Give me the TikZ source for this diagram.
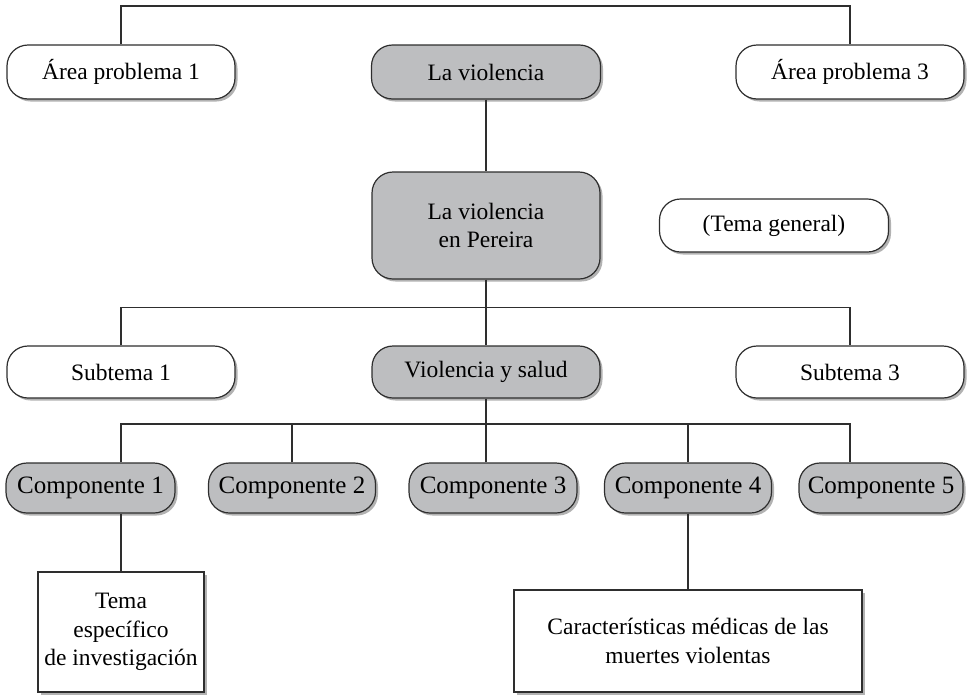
\documentclass[tikz,border=0pt]{standalone}
\usepackage{fontspec}
\setmainfont{Liberation Serif}
\usetikzlibrary{shadows}
\definecolor{boxgray}{HTML}{BDBEC0}
\definecolor{lineg}{HTML}{2E2E2E}
\tikzset{
  base/.style={draw=lineg, line width=1.2pt, align=center, inner sep=2pt,
    font=\fontsize{23.5}{28.5}\selectfont,
    drop shadow={shadow xshift=2.5pt, shadow yshift=-2.5pt, fill=black, opacity=0.3}},
  pill/.style={base, rectangle, rounded corners=21pt, fill=white},
  pillg/.style={pill, fill=boxgray},
  comp/.style={pillg, minimum height=50pt, inner sep=0pt, font=\fontsize{25}{30}\selectfont},
  sqbox/.style={base, rectangle, fill=white},
  conn/.style={draw=lineg, line width=1.1pt}
}
\begin{document}
\begin{tikzpicture}[x=1pt,y=-1pt]
\useasboundingbox (0,0) rectangle (967,694);
% row 1
\node[pill, minimum width=228pt, minimum height=54pt] (a1) at (121,72) {Área problema 1};
\node[pillg, minimum width=229pt, minimum height=54pt] (av) at (486,72) {La violencia};
\node[pill, minimum width=228pt, minimum height=54pt] (a3) at (850,72) {Área problema 3};
% general
\node[pillg, minimum width=228pt, minimum height=107pt] (per) at (486,225.5) {La violencia\\en Pereira};
\node[pill, minimum width=229pt, minimum height=53pt] (tg) at (774,225.5) {(Tema general)};
% row 2
\node[pill, minimum width=228pt, minimum height=52pt] (s1) at (121,372) {Subtema 1};
\node[pillg, minimum width=228pt, minimum height=52pt] (vs) at (486,372) {Violencia y salud};
\node[pill, minimum width=228pt, minimum height=52pt] (s3) at (850,372) {Subtema 3};
% components
\node[comp, minimum width=169pt] (c1) at (90.5,488) {Componente 1};
\node[comp, minimum width=167pt] (c2) at (292,488) {Componente 2};
\node[comp, minimum width=168pt] (c3) at (493,488) {Componente 3};
\node[comp, minimum width=167pt] (c4) at (688,488) {Componente 4};
\node[comp, minimum width=164pt] (c5) at (881,488) {Componente 5};
% bottom boxes
\node[sqbox, minimum width=166pt, minimum height=120pt] (t1) at (121,632) {Tema\\específico\\de investigación};
\node[sqbox, minimum width=348pt, minimum height=102pt] (t4) at (688,641) {Características médicas de las\\muertes violentas};
% connectors
\coordinate (bus0) at (486,6);
\coordinate (bus1) at (486,307.5);
\coordinate (bus2) at (486,424);
\draw[conn] (a1.north) |- (bus0) -| (a3.north);
\draw[conn] (av.south) -- (per.north);
\draw[conn] (per.south) -- (vs.north);
\draw[conn] (s1.north) |- (bus1) -| (s3.north);
\draw[conn] (vs.south) -- (bus2);
\draw[conn] (c1.north -| s1.north) |- (bus2) -| (c5.north -| s3.north);
\draw[conn] (c2.north) -- (c2.north |- bus2);
\draw[conn] (c3.north -| vs.south) -- (bus2);
\draw[conn] (c4.north) -- (c4.north |- bus2);
\draw[conn] (c1.south -| t1.north) -- (t1.north);
\draw[conn] (c4.south) -- (t4.north);
\end{tikzpicture}
\end{document}
